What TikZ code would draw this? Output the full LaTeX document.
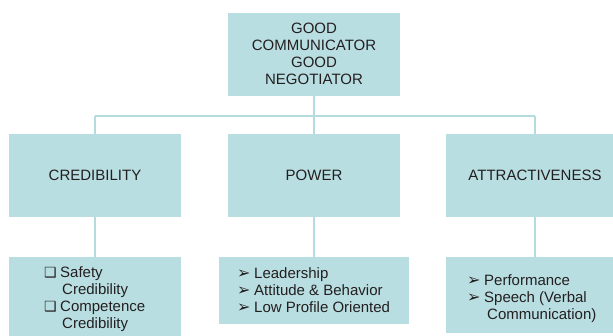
\documentclass[tikz,border=0pt]{standalone}
\usepackage{fontspec}
\setmainfont{Liberation Sans}
\newfontfamily\symfont{DejaVu Sans}
\definecolor{boxfill}{HTML}{B9DEE1}
\definecolor{linkcol}{HTML}{B4DCDF}
\definecolor{ink}{HTML}{231F20}
% list bullets: a hollow square and a dingbat arrow, each in a fixed-width slot
\newcommand\sqbullet{\makebox[16pt][l]{\symfont\fontsize{14}{17}\selectfont ❑}}
\newcommand\arrbullet{\makebox[17pt][l]{\symfont\fontsize{16}{17}\selectfont ➢}}
\begin{document}
\begin{tikzpicture}[x=1pt,y=-1pt,
  box/.style={fill=boxfill, inner sep=0pt, text=ink, align=center,
    font=\fontsize{15}{17}\selectfont},
  link/.style={draw=linkcol, line width=1.4pt},
  listtext/.style={inner sep=0pt, anchor=base west, text=ink,
    font=\fontsize{15}{17}\selectfont}]
\useasboundingbox (0,0) rectangle (613,335);

% goal
\node[box, minimum width=172pt, minimum height=83pt] (goal) at (314,54)
  {GOOD\\COMMUNICATOR\\GOOD\\NEGOTIATOR};

% the three factors
\node[box, minimum width=172pt, minimum height=83pt] (cred)  at (95,175.5)  {CREDIBILITY};
\node[box, minimum width=172pt, minimum height=83pt] (power) at (314,175.5) {POWER};
\node[box, minimum width=178pt, minimum height=83pt] (attr)  at (535,175.5) {ATTRACTIVENESS};

% detail boxes
\node[box, minimum width=172pt, minimum height=79pt] (credlist) at (95,296.5) {};
\node[box, minimum width=190pt, minimum height=67pt] (powlist)  at (314,290.5) {};
\node[box, minimum width=178pt, minimum height=76pt] (attrlist) at (535,295) {};

\node[listtext] (credtext) at (44,277.5) {\begin{tabular}[t]{@{}l@{}}
  \sqbullet Safety\\
  \hspace{18pt}Credibility\\
  \sqbullet Competence\\
  \hspace{18pt}Credibility
\end{tabular}};
\node[listtext] (powtext) at (237,278.5) {\begin{tabular}[t]{@{}l@{}}
  \arrbullet Leadership\\
  \arrbullet Attitude \& Behavior\\
  \arrbullet Low Profile Oriented
\end{tabular}};
\node[listtext] (attrtext) at (467,285.5) {\begin{tabular}[t]{@{}l@{}}
  \arrbullet Performance\\
  \arrbullet Speech (Verbal\\
  \hspace{20pt}Communication)
\end{tabular}};

% connectors
\coordinate (busL) at (95,116);
\coordinate (busR) at (535,116);
\draw[link] (goal.south) -- (power.north);
\draw[link] (busL) -- (busR);
\draw[link] (busL) -- (cred.north);
\draw[link] (busR) -- (attr.north);
\draw[link] (cred.south) -- (credlist.north);
\draw[link] (power.south) -- (powlist.north);
\draw[link] (attr.south) -- (attrlist.north);
\end{tikzpicture}
\end{document}
